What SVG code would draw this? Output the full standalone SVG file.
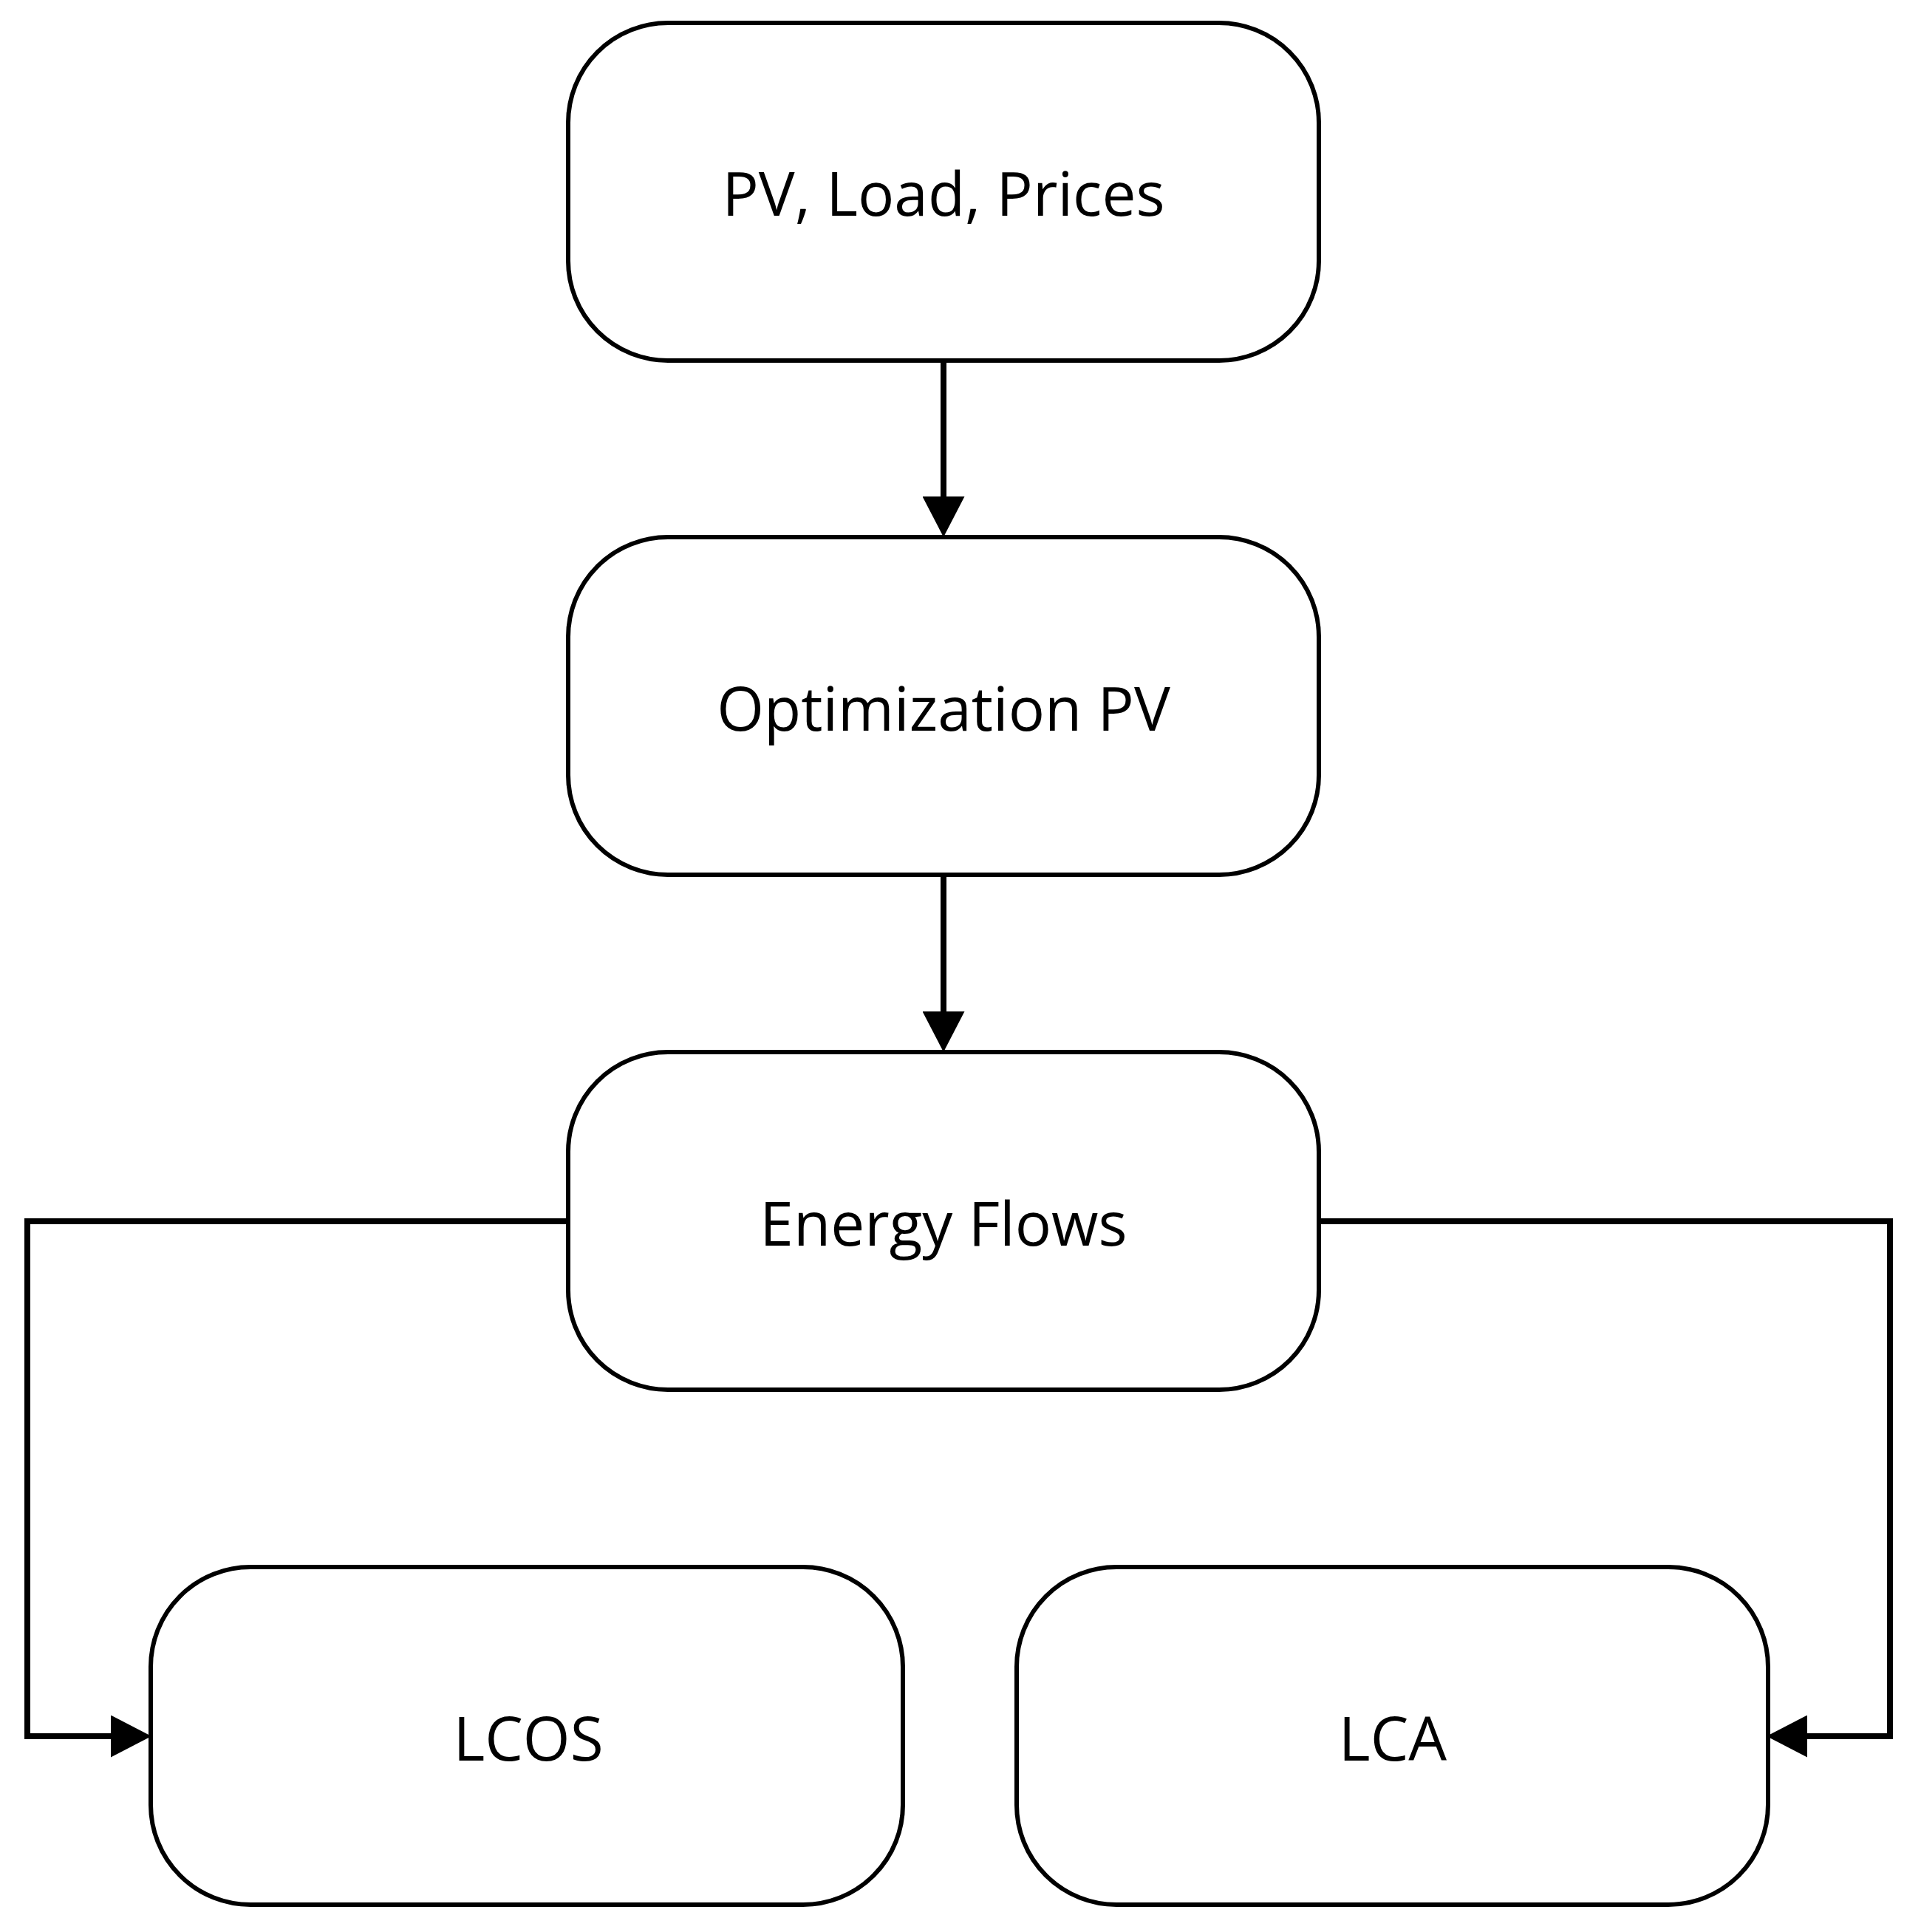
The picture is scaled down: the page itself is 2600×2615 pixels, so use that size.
<svg xmlns="http://www.w3.org/2000/svg" width="2600" height="2615" viewBox="0 0 2600 2615">
  <style>
    .box { fill: #ffffff; stroke: #000000; stroke-width: 6; }
    .lbl { font-family: "Open Sans", "Liberation Sans", sans-serif; font-size: 82px; fill: #000000; text-anchor: middle; }
    .conn { fill: none; stroke: #000000; stroke-width: 8; stroke-linejoin: miter; }
  </style>
  <defs>
    <marker id="arrow" markerUnits="userSpaceOnUse" viewBox="0 0 55 57" refX="0" refY="28.5" markerWidth="55" markerHeight="57" orient="auto">
      <path d="M0,0 L55,28.5 L0,57 Z" fill="#000000"/>
    </marker>
  </defs>
  <rect width="2600" height="2615" fill="#ffffff"/>
  <g id="connectors">
    <path class="conn" d="M1277,488 L1277,672" marker-end="url(#arrow)"/>
    <path class="conn" d="M1277,1184 L1277,1369" marker-end="url(#arrow)"/>
    <path class="conn" d="M769,1653 L37,1653 L37,2350 L150,2350" marker-end="url(#arrow)"/>
    <path class="conn" d="M1785,1653 L2558,1653 L2558,2350 L2446,2350" marker-end="url(#arrow)"/>
  </g>
  <g id="node-inputs">
    <rect class="box" x="769" y="31" width="1016" height="457" rx="135" ry="135"/>
    <text class="lbl" x="1277" y="292">PV, Load, Prices</text>
  </g>
  <g id="node-optimization">
    <rect class="box" x="769" y="727" width="1016" height="457" rx="135" ry="135"/>
    <text class="lbl" x="1277" y="989">Optimization PV</text>
  </g>
  <g id="node-energy-flows">
    <rect class="box" x="769" y="1424" width="1016" height="457" rx="135" ry="135"/>
    <text class="lbl" x="1277" y="1686">Energy Flows</text>
  </g>
  <g id="node-lcos">
    <rect class="box" x="204" y="2121" width="1018" height="457" rx="135" ry="135"/>
    <text class="lbl" x="715" y="2383">LCOS</text>
  </g>
  <g id="node-lca">
    <rect class="box" x="1376" y="2121" width="1017" height="457" rx="135" ry="135"/>
    <text class="lbl" x="1885" y="2383">LCA</text>
  </g>
</svg>
